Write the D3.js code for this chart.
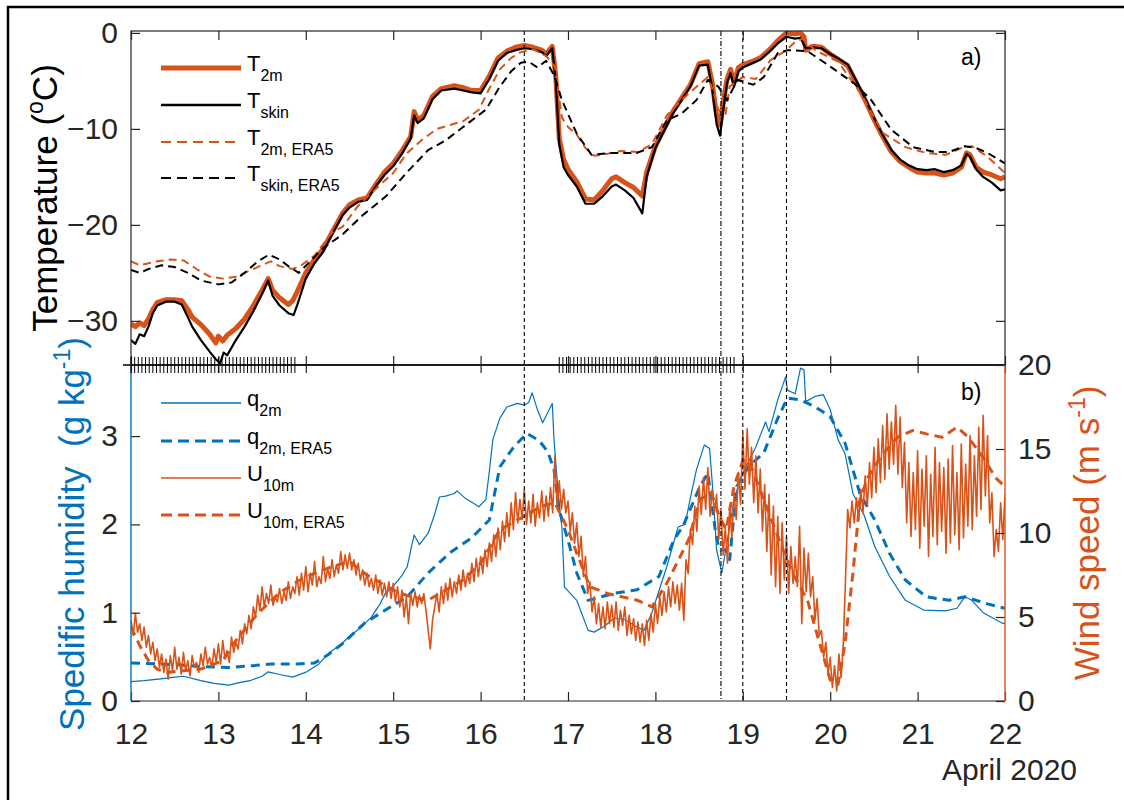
<!DOCTYPE html>
<html>
<head>
    <meta charset="utf-8">
    <title>Temperature, humidity and wind, April 2020</title>
    <style>
        body { margin: 0; background: #fff; }
        svg { font-family: "Liberation Sans", Arial, sans-serif; }
        .line { fill: none; stroke-linejoin: round; }
        .tick line { stroke: #262626; }
        .tick text { fill: #262626; }
    </style>
</head>
<body>
    <svg width="1124" height="800"></svg>

    <script src="https://d3js.org/d3.v7.min.js"></script>
    <script>
        // ---- panel a: temperatures, [day of April, degC]
        const t2m = [[12.0,-30.3],[12.05,-30.6],[12.1,-30.2],[12.15,-30.5],[12.2,-29.8],[12.25,-28.8],[12.3,-28.1],[12.4,-27.8],[12.5,-27.8],[12.58,-27.9],[12.65,-28.8],[12.7,-29.6],[12.8,-30.4],[12.9,-31.4],[12.97,-32.3],[13.0,-31.6],[13.05,-32.1],[13.1,-31.5],[13.2,-30.8],[13.3,-29.8],[13.4,-28.4],[13.5,-26.8],[13.57,-25.6],[13.62,-26.8],[13.7,-27.6],[13.8,-28.3],[13.85,-27.9],[13.9,-27.0],[14.0,-25.0],[14.1,-23.6],[14.2,-22.5],[14.3,-20.8],[14.42,-18.8],[14.5,-17.9],[14.6,-17.4],[14.7,-17.2],[14.8,-15.8],[14.9,-14.5],[15.0,-13.6],[15.1,-12.3],[15.2,-10.8],[15.24,-8.2],[15.28,-9.1],[15.35,-8.6],[15.45,-6.6],[15.55,-5.8],[15.7,-5.5],[15.8,-5.7],[15.9,-6.0],[16.0,-6.0],[16.1,-4.5],[16.2,-2.6],[16.3,-1.9],[16.4,-1.5],[16.5,-1.3],[16.6,-1.5],[16.7,-1.8],[16.75,-2.2],[16.82,-1.4],[16.86,-4.5],[16.9,-11.0],[16.95,-13.2],[17.0,-14.2],[17.1,-15.5],[17.2,-17.3],[17.3,-17.4],[17.4,-16.4],[17.5,-15.2],[17.55,-15.0],[17.65,-15.6],[17.75,-16.1],[17.85,-17.0],[17.9,-14.5],[18.0,-11.8],[18.1,-10.0],[18.2,-8.2],[18.3,-6.8],[18.4,-5.4],[18.5,-3.2],[18.6,-3.0],[18.65,-5.2],[18.7,-8.6],[18.74,-9.6],[18.78,-7.0],[18.82,-4.8],[18.86,-3.8],[18.9,-5.2],[18.95,-3.6],[19.0,-3.3],[19.1,-3.0],[19.2,-2.6],[19.3,-1.8],[19.4,-0.8],[19.5,0.0],[19.6,-0.1],[19.66,0.0],[19.7,-0.4],[19.72,-1.8],[19.8,-1.4],[19.9,-1.5],[20.0,-2.2],[20.1,-2.8],[20.2,-3.4],[20.3,-5.2],[20.4,-7.0],[20.5,-9.0],[20.6,-10.8],[20.7,-12.4],[20.8,-13.4],[20.9,-14.0],[21.0,-14.5],[21.1,-14.6],[21.2,-14.6],[21.3,-14.8],[21.4,-14.6],[21.5,-14.0],[21.56,-12.5],[21.6,-12.7],[21.67,-14.0],[21.75,-14.5],[21.85,-14.8],[21.95,-15.2],[22.0,-15.0]];
        const tSkin = [[12.0,-32.0],[12.05,-32.4],[12.1,-31.4],[12.15,-31.6],[12.2,-30.6],[12.25,-29.2],[12.3,-28.4],[12.4,-28.0],[12.5,-28.0],[12.58,-28.3],[12.65,-29.6],[12.7,-30.6],[12.8,-32.0],[12.9,-33.2],[12.97,-34.0],[13.02,-34.4],[13.06,-33.3],[13.1,-33.6],[13.2,-32.0],[13.3,-30.6],[13.4,-29.0],[13.5,-27.2],[13.57,-25.8],[13.62,-27.4],[13.7,-28.4],[13.8,-29.2],[13.86,-29.4],[13.9,-28.4],[14.0,-25.6],[14.1,-24.0],[14.2,-22.8],[14.3,-21.0],[14.42,-19.0],[14.5,-18.2],[14.6,-17.6],[14.7,-17.4],[14.8,-16.0],[14.9,-14.8],[15.0,-13.9],[15.1,-12.6],[15.2,-11.0],[15.24,-8.6],[15.28,-9.4],[15.35,-8.9],[15.45,-6.9],[15.55,-6.0],[15.7,-5.8],[15.8,-6.0],[15.9,-6.2],[16.0,-6.3],[16.1,-4.8],[16.2,-2.9],[16.3,-2.1],[16.4,-1.8],[16.5,-1.6],[16.6,-1.7],[16.7,-2.0],[16.75,-2.4],[16.82,-1.6],[16.86,-5.0],[16.9,-11.6],[16.95,-14.0],[17.0,-14.8],[17.1,-16.0],[17.2,-17.8],[17.3,-17.8],[17.4,-17.0],[17.5,-16.0],[17.55,-15.8],[17.65,-16.4],[17.75,-17.2],[17.85,-18.8],[17.9,-15.0],[18.0,-12.0],[18.1,-10.2],[18.2,-8.4],[18.3,-7.0],[18.4,-5.6],[18.5,-3.4],[18.6,-3.3],[18.65,-5.8],[18.7,-9.5],[18.74,-10.7],[18.78,-7.8],[18.82,-5.2],[18.86,-4.2],[18.9,-5.6],[18.95,-4.0],[19.0,-3.6],[19.1,-3.2],[19.2,-2.8],[19.3,-2.0],[19.4,-1.1],[19.5,-0.4],[19.6,-0.6],[19.66,-0.5],[19.72,-1.6],[19.8,-1.5],[19.9,-1.6],[20.0,-2.2],[20.1,-2.7],[20.2,-3.3],[20.3,-5.0],[20.4,-6.8],[20.5,-8.8],[20.6,-10.6],[20.7,-12.2],[20.8,-13.2],[20.9,-13.8],[21.0,-14.2],[21.1,-14.3],[21.2,-14.2],[21.3,-14.5],[21.4,-14.3],[21.5,-13.8],[21.56,-12.6],[21.6,-12.9],[21.67,-14.2],[21.75,-15.0],[21.85,-15.6],[21.95,-16.4],[22.0,-16.3]];
        const t2mEra5 = [[12.0,-23.8],[12.1,-24.2],[12.2,-24.0],[12.3,-23.8],[12.45,-23.6],[12.6,-23.7],[12.75,-24.6],[12.9,-25.4],[13.05,-25.6],[13.2,-25.4],[13.35,-24.8],[13.5,-24.2],[13.6,-23.8],[13.7,-24.3],[13.85,-24.6],[13.95,-24.2],[14.1,-23.2],[14.2,-22.0],[14.3,-20.8],[14.42,-20.2],[14.6,-18.0],[14.83,-16.0],[15.0,-14.6],[15.15,-12.6],[15.32,-11.2],[15.5,-10.0],[15.65,-9.6],[15.8,-9.2],[15.98,-8.0],[16.1,-5.8],[16.22,-3.8],[16.35,-2.6],[16.46,-2.0],[16.6,-1.7],[16.75,-2.4],[16.85,-3.5],[16.93,-8.8],[17.0,-9.8],[17.1,-10.6],[17.2,-12.0],[17.3,-12.8],[17.45,-12.6],[17.6,-12.3],[17.8,-12.4],[17.96,-11.6],[18.13,-8.6],[18.3,-7.0],[18.47,-5.6],[18.6,-4.6],[18.66,-6.0],[18.72,-8.0],[18.8,-8.6],[18.85,-5.6],[19.0,-4.6],[19.15,-4.8],[19.32,-2.8],[19.5,-1.8],[19.6,-0.9],[19.68,-0.6],[19.83,-1.8],[20.09,-3.0],[20.35,-6.3],[20.6,-10.4],[20.86,-11.9],[21.1,-12.5],[21.32,-12.7],[21.5,-12.0],[21.62,-11.8],[21.8,-12.9],[22.0,-14.6]];
        const tSkinEra5 = [[12.0,-24.7],[12.1,-25.0],[12.2,-24.6],[12.35,-24.2],[12.5,-24.4],[12.65,-25.0],[12.8,-25.8],[13.0,-26.2],[13.15,-26.0],[13.3,-25.0],[13.45,-23.8],[13.58,-23.1],[13.7,-23.6],[13.8,-24.3],[13.92,-25.0],[14.05,-23.8],[14.2,-22.4],[14.42,-21.0],[14.65,-19.0],[14.92,-17.0],[15.15,-14.6],[15.4,-12.2],[15.6,-11.2],[15.8,-9.8],[16.06,-8.0],[16.22,-5.6],[16.35,-4.0],[16.46,-3.1],[16.55,-3.0],[16.65,-3.6],[16.75,-2.9],[16.85,-4.6],[16.93,-7.0],[17.1,-10.5],[17.27,-12.7],[17.5,-12.5],[17.79,-12.5],[17.96,-11.9],[18.13,-9.1],[18.3,-8.4],[18.47,-7.0],[18.6,-4.9],[18.72,-5.6],[18.82,-7.0],[18.94,-4.9],[19.12,-5.4],[19.24,-4.6],[19.4,-2.1],[19.51,-1.8],[19.74,-1.9],[20.0,-3.5],[20.28,-5.3],[20.47,-7.0],[20.7,-10.1],[20.95,-11.9],[21.2,-12.4],[21.36,-12.4],[21.54,-11.8],[21.67,-12.0],[21.8,-12.5],[22.0,-13.6]];

        // ---- panel b: specific humidity [day, g/kg]
        const q2m = [[12.0,0.22],[12.15,0.23],[12.34,0.25],[12.5,0.27],[12.6,0.28],[12.8,0.23],[12.95,0.2],[13.12,0.18],[13.25,0.21],[13.36,0.23],[13.5,0.28],[13.57,0.33],[13.7,0.3],[13.85,0.27],[14.01,0.33],[14.15,0.42],[14.26,0.54],[14.4,0.64],[14.5,0.73],[14.65,0.85],[14.75,0.95],[14.85,1.1],[14.91,1.22],[15.0,1.3],[15.1,1.42],[15.16,1.52],[15.21,1.75],[15.24,1.88],[15.3,1.77],[15.4,1.9],[15.47,2.1],[15.53,2.31],[15.6,2.32],[15.7,2.35],[15.73,2.38],[15.82,2.3],[15.9,2.25],[15.98,2.2],[16.06,2.28],[16.1,2.6],[16.14,2.96],[16.22,3.2],[16.3,3.33],[16.42,3.37],[16.5,3.35],[16.55,3.38],[16.59,3.49],[16.65,3.3],[16.71,3.15],[16.76,3.25],[16.82,3.37],[16.84,2.96],[16.9,2.2],[16.93,1.97],[16.96,1.29],[17.1,1.14],[17.23,0.8],[17.3,0.78],[17.42,0.85],[17.53,0.94],[17.65,0.92],[17.77,0.85],[17.87,0.8],[17.96,1.0],[18.13,1.52],[18.26,1.97],[18.34,2.0],[18.4,2.3],[18.47,2.62],[18.56,2.9],[18.62,2.86],[18.66,2.35],[18.7,1.71],[18.76,1.45],[18.81,1.74],[18.9,2.28],[18.98,2.54],[19.15,2.88],[19.26,3.16],[19.3,3.05],[19.4,3.41],[19.49,3.67],[19.51,3.52],[19.6,3.48],[19.66,3.77],[19.7,3.75],[19.72,3.39],[19.83,3.45],[19.92,3.47],[20.0,3.3],[20.09,2.96],[20.17,2.8],[20.26,2.35],[20.39,2.1],[20.51,1.75],[20.68,1.41],[20.86,1.14],[21.07,1.03],[21.32,1.02],[21.45,1.05],[21.54,1.18],[21.62,1.14],[21.75,1.0],[21.97,0.88],[22.0,0.88]];
        const q2mEra5 = [[12.0,0.43],[12.3,0.42],[12.53,0.41],[12.8,0.39],[13.12,0.38],[13.4,0.4],[13.6,0.42],[13.9,0.42],[14.1,0.43],[14.25,0.52],[14.42,0.65],[14.67,0.88],[14.91,1.03],[15.16,1.18],[15.4,1.45],[15.65,1.68],[15.9,1.85],[16.1,2.05],[16.22,2.65],[16.38,2.88],[16.53,3.03],[16.67,2.95],[16.77,2.82],[16.84,2.62],[16.9,2.16],[17.02,1.75],[17.1,1.45],[17.23,1.14],[17.53,1.22],[17.79,1.26],[18.04,1.41],[18.21,1.82],[18.32,1.99],[18.51,2.43],[18.6,2.58],[18.68,1.97],[18.73,1.71],[18.81,1.71],[18.85,1.6],[18.93,2.43],[19.07,2.66],[19.24,2.81],[19.4,3.2],[19.51,3.43],[19.66,3.41],[19.83,3.33],[20.0,3.22],[20.17,2.92],[20.34,2.35],[20.51,2.05],[20.68,1.67],[20.86,1.37],[21.1,1.18],[21.36,1.14],[21.54,1.18],[21.8,1.1],[22.0,1.05]];

        // ---- panel b: wind speed [m/s]
        const u10mEra5 = [[12.0,4.4],[12.1,3.3],[12.2,2.4],[12.3,1.9],[12.41,1.7],[12.6,1.8],[12.8,1.9],[13.05,2.4],[13.2,3.6],[13.45,5.2],[13.69,6.4],[13.93,7.2],[14.1,7.6],[14.3,8.0],[14.5,8.3],[14.7,7.5],[15.0,6.6],[15.2,6.2],[15.4,6.0],[15.6,6.6],[15.8,7.2],[16.0,8.2],[16.22,10.2],[16.5,11.0],[16.7,11.6],[16.85,11.8],[17.0,10.2],[17.1,8.8],[17.25,6.8],[17.45,6.4],[17.79,6.0],[17.96,5.6],[18.13,7.0],[18.38,9.6],[18.51,12.0],[18.64,12.4],[18.73,11.0],[18.81,10.2],[18.9,12.8],[19.0,14.3],[19.07,14.3],[19.24,12.0],[19.4,9.8],[19.57,7.6],[19.74,6.0],[19.87,3.6],[20.0,1.25],[20.09,1.0],[20.17,3.45],[20.26,7.6],[20.34,12.0],[20.43,13.3],[20.6,14.7],[20.77,15.7],[20.94,16.1],[21.1,15.9],[21.28,15.7],[21.45,16.3],[21.58,15.7],[21.75,14.5],[21.89,13.3],[22.0,12.75]];
        // measured U10m, sampled every 0.025 day from 12 April (one row = half a day)
        const u10mStart = 12;
        const u10mStep = 0.025;
        const u10m = [
            4.8, 3.9, 5.2, 4.1, 4.6, 3.6, 4.4, 3.2, 3.9, 2.8, 3.5, 2.4, 3.1, 2.0, 2.8, 1.7, 2.5, 1.3, 2.7, 1.8,
            3.2, 1.9, 2.6, 1.6, 2.9, 1.8, 2.4, 1.5, 2.7, 2.0, 2.3, 1.7, 2.8, 2.1, 3.2, 2.2, 2.6, 2.0, 3.1, 2.3,
            3.4, 2.2, 3.6, 2.5, 3.0, 2.3, 3.8, 2.9, 3.5, 3.1, 4.2, 3.4, 4.6, 4.0, 5.1, 4.3, 5.6, 5.0, 6.3, 5.4,
            6.8, 5.6, 6.4, 5.8, 6.9, 5.7, 6.2, 5.9, 6.7, 5.8, 6.5, 6.0, 7.1, 6.1, 6.8, 6.4, 7.4, 6.3, 7.6, 6.6,
            8.0, 6.5, 7.6, 6.9, 8.3, 6.8, 7.4, 7.0, 8.6, 7.1, 7.9, 7.3, 8.4, 7.4, 8.1, 7.6, 8.9, 7.8, 8.7, 7.9,
            8.8, 7.8, 8.4, 7.5, 8.2, 7.2, 7.8, 6.9, 7.6, 6.8, 7.3, 6.6, 7.5, 6.4, 7.2, 6.3, 7.0, 6.2, 7.1, 6.1,
            7.0, 5.9, 6.8, 5.6, 6.6, 5.0, 6.2, 4.6, 6.4, 5.7, 6.5, 5.6, 6.3, 5.8, 6.4, 5.4, 4.2, 3.1, 4.8, 5.6,
            6.4, 5.3, 6.8, 5.8, 7.0, 6.0, 7.3, 6.2, 7.1, 6.4, 7.5, 6.6, 7.8, 6.8, 7.6, 7.0, 8.2, 7.1, 8.5, 7.4,
            8.6, 7.6, 9.0, 8.0, 9.4, 8.3, 9.9, 8.6, 10.3, 9.0, 10.7, 9.5, 11.2, 9.8, 11.8, 10.2, 12.4, 10.6, 12.0, 10.8,
            12.6, 10.5, 11.9, 10.6, 12.3, 10.4, 11.8, 10.9, 12.5, 10.7, 12.2, 11.0, 12.7, 11.2, 14.6, 11.5, 13.1, 11.4, 12.6, 11.2,
            11.9, 10.1, 11.2, 9.4, 10.6, 8.6, 9.8, 7.4, 8.6, 6.4, 7.1, 5.3, 6.2, 4.6, 5.8, 4.4, 5.6, 4.3, 5.9, 4.6,
            5.7, 4.4, 5.9, 4.2, 5.4, 4.5, 5.6, 3.9, 5.1, 4.0, 4.9, 3.6, 4.7, 3.5, 4.6, 3.3, 4.8, 3.6, 5.2, 4.1,
            5.8, 4.6, 6.2, 5.1, 6.5, 5.3, 6.8, 5.6, 7.1, 5.8, 6.9, 5.4, 7.0, 4.8, 8.4, 7.6, 10.2, 9.3, 11.6, 10.1,
            12.8, 11.1, 13.3, 11.4, 13.9, 11.0, 12.6, 11.2, 12.3, 9.6, 11.4, 8.7, 10.3, 8.2, 11.6, 9.7, 12.4, 10.8, 13.6, 11.7,
            15.9, 12.6, 16.2, 12.9, 15.1, 11.8, 14.6, 11.2, 13.8, 10.1, 12.9, 8.9, 12.3, 7.5, 11.6, 6.8, 11.0, 6.4, 10.6, 7.2,
            9.8, 6.4, 9.2, 7.0, 8.6, 6.8, 10.4, 4.6, 9.1, 6.5, 8.8, 6.2, 7.4, 4.8, 6.1, 3.9, 4.2, 2.6, 3.5, 1.6,
            2.6, 0.8, 2.1, 0.6, 2.8, 1.4, 3.4, 7.2, 11.4, 10.3, 11.9, 10.6, 12.1, 10.8, 12.6, 11.2, 13.4, 11.6, 14.2, 12.1,
            15.1, 12.4, 15.6, 13.0, 16.4, 13.2, 17.1, 13.8, 16.6, 14.1, 17.6, 13.5, 16.9, 12.7, 15.4, 10.6, 14.2, 9.8, 13.6, 10.2,
            14.9, 9.1, 13.8, 10.4, 14.6, 8.6, 13.5, 9.8, 15.1, 9.3, 14.2, 10.1, 13.9, 8.8, 14.4, 9.4, 15.2, 9.9, 13.6, 9.0,
            15.3, 9.7, 14.1, 10.4, 15.8, 10.2, 14.6, 11.0, 16.3, 11.4, 17.0, 12.2, 15.8, 10.6, 12.4, 8.6, 10.2, 8.9, 11.8, 9.6,
            12.3
        ];

        // marked periods (hourly marks) and event times
        const markedPeriods = [[12.0, 13.9], [16.9, 18.9]];
        const eventDays = [16.5, 18.75, 19.0, 19.5];

        const dayTicks = [12, 13, 14, 15, 16, 17, 18, 19, 20, 21, 22];
        const tempTicks = [-30, -20, -10, 0];
        const qTicks = [0, 1, 2, 3];
        const windTicks = [0, 5, 10, 15, 20];

        const orange = "#D95319";
        const blue = "#0072BD";
        const axisCol = "#262626";
        const font = '"Liberation Sans", Arial, sans-serif';

        const svg = d3.select("svg");
        svg.append("rect").attr("width", 1124).attr("height", 800).attr("fill", "#fff");

        // figure frame (only top and left edges fall inside the picture)
        svg.append("path").attr("d", "M8,800V7H1124")
            .attr("fill", "none").attr("stroke", "#000").attr("stroke-width", 2.5);

        const left = 131, right = 1005, topA = 31, mid = 365, bottom = 701;

        const x = d3.scaleLinear().domain([12, 22]).range([left, right]);
        const yT = d3.scaleLinear().domain([-34.6, 0.2]).range([mid, topA]);
        const yQ = d3.scaleLinear().domain([0, 3.805]).range([bottom, mid]);
        const yU = d3.scaleLinear().domain([0, 20]).range([bottom, mid]);

        const defs = svg.append("defs");
        defs.append("clipPath").attr("id", "clipA").append("rect")
            .attr("x", left).attr("y", topA).attr("width", right - left).attr("height", mid - topA);
        defs.append("clipPath").attr("id", "clipB").append("rect")
            .attr("x", left).attr("y", mid).attr("width", right - left).attr("height", bottom - mid);

        // ---------- panel a ----------
        const gA = svg.append("g").attr("clip-path", "url(#clipA)");
        const lineT = d3.line().x(d => x(d[0])).y(d => yT(d[1]));

        gA.append("path").datum(t2m).attr("class", "line").attr("d", lineT)
            .attr("stroke", orange).attr("stroke-width", 5);
        gA.append("path").datum(tSkin).attr("class", "line").attr("d", lineT)
            .attr("stroke", "#000").attr("stroke-width", 2.2);
        gA.append("path").datum(t2mEra5).attr("class", "line").attr("d", lineT)
            .attr("stroke", orange).attr("stroke-width", 2).attr("stroke-dasharray", "8,5");
        gA.append("path").datum(tSkinEra5).attr("class", "line").attr("d", lineT)
            .attr("stroke", "#000").attr("stroke-width", 2).attr("stroke-dasharray", "8,5");

        // ---------- panel b ----------
        const gB = svg.append("g").attr("clip-path", "url(#clipB)");
        const lineQ = d3.line().x(d => x(d[0])).y(d => yQ(d[1]));
        const lineU = d3.line().x(d => x(d[0])).y(d => yU(d[1]));
        const u10mPts = u10m.map((v, i) => [u10mStart + i * u10mStep, v]);

        gB.append("path").datum(q2m).attr("class", "line").attr("d", lineQ)
            .attr("stroke", blue).attr("stroke-width", 1.2);
        gB.append("path").datum(q2mEra5).attr("class", "line").attr("d", lineQ)
            .attr("stroke", blue).attr("stroke-width", 3).attr("stroke-dasharray", "9,6");
        gB.append("path").datum(u10mEra5).attr("class", "line").attr("d", lineU)
            .attr("stroke", orange).attr("stroke-width", 3).attr("stroke-dasharray", "9,6");
        gB.append("path").datum(u10mPts).attr("class", "line").attr("d", lineU)
            .attr("stroke", orange).attr("stroke-width", 1.6);

        // ---------- event lines across both panels ----------
        svg.append("g").selectAll("line").data(eventDays).join("line")
            .attr("x1", d => x(d)).attr("x2", d => x(d))
            .attr("y1", topA).attr("y2", bottom)
            .attr("stroke", "#000").attr("stroke-width", 1.1)
            .attr("stroke-dasharray", d => d === 18.75 ? "5,2,1,2" : "4,3");

        // ---------- axes ----------
        svg.append("rect").attr("x", left).attr("y", topA).attr("width", right - left).attr("height", mid - topA)
            .attr("fill", "none").attr("stroke", axisCol).attr("stroke-width", 1.2);

        function styleAxis(g, col, fontSize) {
            g.select(".domain").remove();
            g.selectAll(".tick line").attr("stroke", col).attr("stroke-width", 1.2);
            g.selectAll(".tick text").attr("fill", col).attr("font-size", fontSize)
                .attr("font-family", font);
        }

        // panel a
        svg.append("g").attr("transform", `translate(0,${topA})`)
            .call(d3.axisTop(x).tickValues(dayTicks).tickSize(-9).tickFormat(""))
            .call(g => styleAxis(g, axisCol, 29));
        svg.append("g").attr("transform", `translate(0,${mid})`)
            .call(d3.axisBottom(x).tickValues(dayTicks).tickSize(-9).tickFormat(""))
            .call(g => styleAxis(g, axisCol, 29));
        svg.append("g").attr("transform", `translate(${left},0)`)
            .call(d3.axisLeft(yT).tickValues(tempTicks).tickSize(-9).tickPadding(13).tickFormat(d3.format("d")))
            .call(g => styleAxis(g, axisCol, 30));
        svg.append("g").attr("transform", `translate(${right},0)`)
            .call(d3.axisRight(yT).tickValues(tempTicks).tickSize(-9).tickFormat(""))
            .call(g => styleAxis(g, axisCol, 30));

        // panel b
        svg.append("g").attr("transform", `translate(0,${mid})`)
            .call(d3.axisTop(x).tickValues(dayTicks).tickSize(-8).tickFormat(""))
            .call(g => styleAxis(g, axisCol, 29));
        svg.append("g").attr("transform", `translate(0,${bottom})`)
            .call(d3.axisBottom(x).tickValues(dayTicks).tickSize(-9).tickPadding(22).tickFormat(d3.format("d")))
            .call(g => styleAxis(g, axisCol, 30));
        svg.append("line").attr("x1", left).attr("x2", right).attr("y1", bottom).attr("y2", bottom)
            .attr("stroke", axisCol).attr("stroke-width", 1.2);
        svg.append("line").attr("x1", 123).attr("x2", right).attr("y1", mid).attr("y2", mid)
            .attr("stroke", "#000").attr("stroke-width", 1.4);

        svg.append("g").attr("transform", `translate(${left},0)`)
            .call(d3.axisLeft(yQ).tickValues(qTicks).tickSize(-9).tickPadding(13).tickFormat(d3.format("d")))
            .call(g => styleAxis(g, blue, 30));
        svg.append("line").attr("x1", left).attr("x2", left).attr("y1", mid).attr("y2", bottom)
            .attr("stroke", blue).attr("stroke-width", 1.4);

        svg.append("g").attr("transform", `translate(${right},0)`)
            .call(d3.axisRight(yU).tickValues(windTicks).tickSize(-9).tickPadding(13).tickFormat(d3.format("d")))
            .call(g => styleAxis(g, orange, 30));
        svg.append("line").attr("x1", right).attr("x2", right).attr("y1", mid).attr("y2", bottom)
            .attr("stroke", orange).attr("stroke-width", 1.4);

        // hourly marks on the panel boundary for the marked periods
        const marks = markedPeriods.flatMap(p => d3.range(p[0], p[1] + 1e-6, 1 / 24));
        svg.append("g").selectAll("line").data(marks).join("line")
            .attr("x1", d => x(d)).attr("x2", d => x(d))
            .attr("y1", mid - 8).attr("y2", mid + 8)
            .attr("stroke", "#000").attr("stroke-width", 1);

        // ---------- axis titles ----------
        const tA = svg.append("text").attr("transform", `translate(57,198) rotate(-90)`)
            .attr("text-anchor", "middle").attr("font-size", 35).attr("font-family", font).attr("fill", "#000");
        tA.append("tspan").text("Temperature (");
        tA.append("tspan").attr("font-size", 23).attr("dy", -14).text("o");
        tA.append("tspan").attr("dy", 14).text("C)");

        const tQ = svg.append("text").attr("transform", `translate(84,534) rotate(-90)`)
            .attr("text-anchor", "middle").attr("font-size", 35).attr("font-family", font).attr("fill", blue)
            .style("white-space", "pre");
        tQ.append("tspan").text("Spedific humidity  (g kg");
        tQ.append("tspan").attr("font-size", 23).attr("dy", -14).text("-1");
        tQ.append("tspan").attr("dy", 14).text(")");

        const tU = svg.append("text").attr("transform", `translate(1099,533) rotate(-90)`)
            .attr("text-anchor", "middle").attr("font-size", 35).attr("font-family", font).attr("fill", orange);
        tU.append("tspan").text("Wind speed (m s");
        tU.append("tspan").attr("font-size", 23).attr("dy", -14).text("-1");
        tU.append("tspan").attr("dy", 14).text(")");

        svg.append("text").attr("x", 1077).attr("y", 780).attr("text-anchor", "end")
            .attr("font-size", 30).attr("font-family", font).attr("fill", axisCol).text("April 2020");

        svg.append("text").attr("x", 961).attr("y", 65).attr("font-size", 23)
            .attr("font-family", font).attr("fill", "#000").text("a)");
        svg.append("text").attr("x", 961).attr("y", 400).attr("font-size", 23)
            .attr("font-family", font).attr("fill", "#000").text("b)");

        // ---------- legends ----------
        const legA = [
            { base: "T", sub: "2m", color: orange, width: 5, dash: null, y: 68 },
            { base: "T", sub: "skin", color: "#000", width: 2.4, dash: null, y: 105 },
            { base: "T", sub: "2m, ERA5", color: orange, width: 2, dash: "10,6", y: 142 },
            { base: "T", sub: "skin, ERA5", color: "#000", width: 2, dash: "10,6", y: 178 }
        ];
        const legB = [
            { base: "q", sub: "2m", color: blue, width: 1.3, dash: null, y: 403 },
            { base: "q", sub: "2m, ERA5", color: blue, width: 3, dash: "11,6", y: 441 },
            { base: "U", sub: "10m", color: orange, width: 1.5, dash: null, y: 478 },
            { base: "U", sub: "10m, ERA5", color: orange, width: 3, dash: "11,6", y: 515 }
        ];

        function drawLegend(items) {
            const g = svg.append("g");
            items.forEach(d => {
                g.append("line").attr("x1", 161).attr("x2", 241).attr("y1", d.y).attr("y2", d.y)
                    .attr("stroke", d.color).attr("stroke-width", d.width)
                    .attr("stroke-dasharray", d.dash);
                const t = g.append("text").attr("x", 247).attr("y", d.y + 3)
                    .attr("font-size", 22).attr("font-family", font).attr("fill", "#000");
                t.append("tspan").text(d.base);
                t.append("tspan").attr("font-size", 16).attr("dy", 10).text(d.sub);
            });
        }
        drawLegend(legA);
        drawLegend(legB);
    </script>
</body>
</html>
